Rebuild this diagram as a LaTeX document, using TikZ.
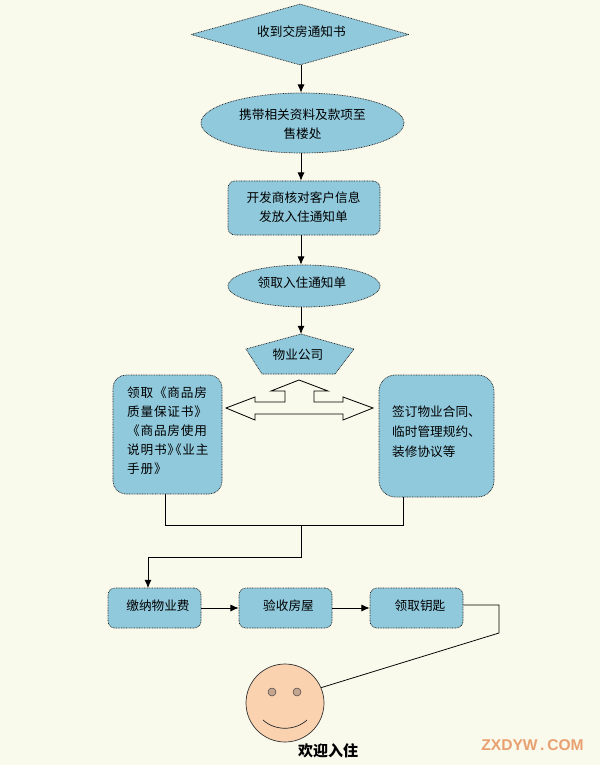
\documentclass[tikz,border=0pt]{standalone}
\usepackage{fontspec}
\newfontfamily\cjk{Noto Sans CJK SC}
\newfontfamily\cjkwide[LetterSpace=6]{Noto Sans CJK SC}
\setsansfont{Liberation Sans}
\usetikzlibrary{arrows.meta,shapes.geometric}
\definecolor{pagebg}{HTML}{F9F9EC}
\definecolor{boxblue}{HTML}{90C9DC}
\definecolor{skin}{HTML}{FAD2B0}
\definecolor{eyebrown}{HTML}{C4A58F}
\definecolor{markorange}{HTML}{E8A070}
\tikzset{
  flowbox/.style={draw=black!85,line width=0.6pt,dash pattern=on 0.7pt off 0.7pt,fill=boxblue,rounded corners=6pt,inner sep=0pt},
  floworal/.style={flowbox,ellipse},
  flowdiamond/.style={flowbox,diamond,rounded corners=0pt},
  flowtext/.style={inner sep=0pt,align=center,font=\cjk\fontsize{10.8}{16.5}\selectfont},
  link/.style={draw=black,line width=0.75pt},
  thinlink/.style={draw=black,line width=0.65pt},
  linkto/.style={link,-{Latex[length=7pt,width=6pt]}},
  facedot/.style={circle,draw=black!75,fill=eyebrown,minimum size=0.24cm,inner sep=0pt},
}
\begin{document}
\begin{tikzpicture}[x=0.03cm,y=-0.03cm]
  % page
  \fill[pagebg] (0,0) rectangle (600,765);
  \useasboundingbox (0,0) rectangle (600,765);

  % top of the flow
  \node[flowdiamond,minimum width=6.54cm,minimum height=1.83cm] (notice) at (300,34.5) {};
  \node[flowtext] (noticetxt) at (301.5,32) {收到交房通知书};
  \node[floworal,minimum width=6.09cm,minimum height=1.8cm] (bring) at (302.5,123) {};
  \node[flowtext] (bringtxt) at (302.5,124.5) {携带相关资料及款项至\\售楼处};
  \node[flowbox,minimum width=4.56cm,minimum height=1.62cm] (check) at (304,208) {};
  \node[flowtext] (checktxt) at (303.5,207) {开发商核对客户信息\\发放入住通知单};
  \node[floworal,minimum width=4.56cm,minimum height=1.26cm] (take) at (304,286) {};
  \node[flowtext] (taketxt) at (302,282.5) {领取入住通知单};

  % property company
  \draw[black!85,line width=0.6pt,dash pattern=on 0.7pt off 0.7pt,fill=boxblue] (301,334) coordinate (comptop) -- (354,349) -- (335,374) -- (262,374) -- (246,349) -- cycle;
  \node[flowtext] (company) at (298,355) {物业公司};

  % block arrow
  \draw[black,fill=pagebg,line width=0.7pt] (299,380) -- (328,391) -- (314,391) -- (314,402) -- (343,402) -- (343,397)
    -- (373,408) -- (343,420) -- (343,414) -- (255,414) -- (255,420) -- (226,408) -- (255,397) -- (255,402)
    -- (285,402) -- (285,391) -- (271,391) -- cycle;

  % side boxes
  \node[flowbox,rounded corners=11pt,minimum width=3.27cm,minimum height=3.57cm] (papers) at (167.5,434.5) {};
  \node[flowtext,font=\cjkwide\fontsize{10.8}{16.2}\selectfont,align=left,anchor=west] (paperstxt) at (127,431) {领取《商品房\\质量保证书》\\《商品房使用\\说明书》\kern-9.5pt《业主\\手册》};
  \node[flowbox,rounded corners=14pt,minimum width=3.45cm,minimum height=3.66cm] (sign) at (436.5,436) {};
  \node[flowtext,font=\cjk\fontsize{10.8}{17}\selectfont,align=left,anchor=west] (signtxt) at (392,432) {签订物业合同、\\临时管理规约、\\装修协议等};

  % bottom row
  \node[flowbox,minimum width=2.79cm,minimum height=1.2cm] (fee) at (154.5,608) {};
  \node[flowtext] (feetxt) at (158,605.5) {缴纳物业费};
  \node[flowbox,minimum width=2.79cm,minimum height=1.2cm] (inspect) at (285.5,608) {};
  \node[flowtext] (inspecttxt) at (288.5,605.5) {验收房屋};
  \node[flowbox,minimum width=2.79cm,minimum height=1.2cm] (keys) at (416.5,608) {};
  \node[flowtext] (keystxt) at (420,605.5) {领取钥匙};

  % face
  \node[circle,draw=black!80,line width=0.6pt,fill=skin,minimum size=2.34cm,inner sep=0pt] (face) at (285,703) {};
  \node[facedot] (lefteye) at (272,692) {};
  \node[facedot] (righteye) at (297,692) {};
  \draw[black!85,line width=0.6pt] (263,720) .. controls (275,731) and (295,731) .. (307,720);
  \node[flowtext,font=\cjk\bfseries\fontsize{12.8}{15}\selectfont] (welcome) at (328,751) {欢迎入住};
  \node[inner sep=0pt,font=\sffamily\bfseries\fontsize{13.3}{15}\selectfont,text=markorange] (mark) at (532.5,745) {ZXDYW\kern2pt.\kern2.5pt COM};

  % connectors
  \coordinate (spine) at (301,0);
  \draw[linkto] (spine |- notice.south) -- (spine |- bring.north);
  \draw[linkto] (spine |- bring.south) -- (spine |- check.north);
  \draw[linkto] (spine |- check.south) -- (spine |- take.north);
  \draw[linkto] (spine |- take.south) -- (comptop);
  \coordinate (joinleft) at (165,525);
  \coordinate (joinright) at (403.5,525);
  \coordinate (joinmid) at (301,525);
  \coordinate (drop) at (301,557);
  \coordinate (feein) at (148,588);
  \draw[link] (papers.south -| joinleft) -- (joinleft) -- (joinright) -- (sign.south -| joinright);
  \draw[linkto] (joinmid) -- (drop) -- (drop -| feein) -- (feein);
  \draw[linkto] (fee) -- (inspect);
  \draw[linkto] (inspect) -- (keys);
  \coordinate (bendtop) at (499,605);
  \coordinate (bendlow) at (499,633);
  \draw[thinlink] (keys.east |- bendtop) -- (bendtop) -- (bendlow) -- (face.23);
\end{tikzpicture}
\end{document}
